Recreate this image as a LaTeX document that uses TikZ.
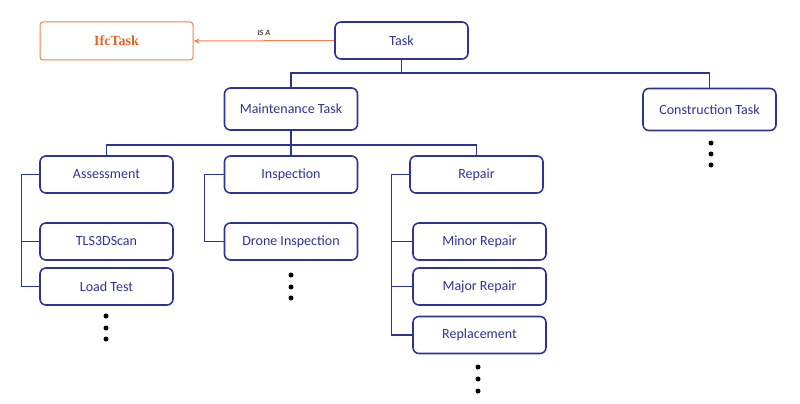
\documentclass[tikz,border=0pt]{standalone}
\usepackage{fontspec}
\setmainfont{Carlito}
\newfontfamily\serifcj{Liberation Serif}
\usetikzlibrary{arrows.meta}
\definecolor{tblue}{RGB}{46,52,148}
\definecolor{torange}{RGB}{240,130,70}
\definecolor{torangetext}{RGB}{226,100,40}
\tikzset{
  bx/.style={draw=tblue, line width=1.6pt, rounded corners=6pt, fill=white,
    minimum width=133pt, minimum height=37pt, inner sep=0pt,
    text=tblue, font=\fontsize{14}{16}\selectfont},
  ifcbox/.style={draw=torange, line width=1pt, rounded corners=3pt,
    minimum width=153pt, minimum height=38pt, inner sep=0pt,
    text=torangetext, font=\serifcj\bfseries\fontsize{14}{16}\selectfont},
  conn/.style={draw=tblue, line width=1.4pt},
  dotc/.style={fill=black, circle, inner sep=0pt, minimum size=5pt}
}
\begin{document}
\begin{tikzpicture}[x=1pt,y=-1pt]
\useasboundingbox (0,0) rectangle (800,404);
% nodes
\node[ifcbox] (ifc) at (116.5,41) {IfcTask};
\node[bx] (task) at (401.5,40.5) {Task};
\node[bx, minimum height=42pt] (maint) at (291,109) {Maintenance Task};
\node[bx, minimum height=42pt] (cons) at (709.5,109.5) {Construction Task};
\node[bx] (assess) at (106.5,174.5) {Assessment};
\node[bx] (insp) at (291,174.5) {Inspection};
\node[bx] (rep) at (476.5,174.5) {Repair};
\node[bx] (tls) at (106.5,241.5) {TLS3DScan};
\node[bx] (load) at (106.5,286.5) {Load Test};
\node[bx] (drone) at (291,241.5) {Drone Inspection};
\node[bx] (minor) at (479.5,241.5) {Minor Repair};
\node[bx] (major) at (479.5,286.5) {Major Repair};
\node[bx] (repl) at (479.5,335) {Replacement};
% IS A arrow
\draw[draw=torange, line width=1pt, -{Stealth[length=6pt,width=5pt]}] (task.west) -- node[above=1pt, text=black!75, font=\bfseries\itshape\fontsize{8}{9}\selectfont] {IS A} (ifc.east);
% tree connectors
\coordinate (j1) at (401.5,73);
\draw[conn] (task.south) -- (j1);
\draw[conn] (maint.north) |- (j1) -| (cons.north);
\coordinate (j2) at (291,145);
\draw[conn] (maint.south) -- (j2);
\draw[conn] (assess.north) |- (j2) -| (rep.north);
\draw[conn] (insp.north) -- (j2);
% brackets
\draw[conn] (assess.west) -- ++(-18,0) |- (load.west);
\draw[conn] (tls.west) -- ++(-18,0);
\draw[conn] (insp.west) -- ++(-19,0) |- (drone.west);
\draw[conn] (rep.west) -- ++(-18,0) |- (repl.west);
\draw[conn] (minor.west) -- ++(-21,0);
\draw[conn] (major.west) -- ++(-21,0);
% dots
\foreach \y [count=\i] in {316,328,339} \node[dotc] (da\i) at (106,\y) {};
\foreach \y [count=\i] in {275,287,298} \node[dotc] (dd\i) at (291,\y) {};
\foreach \y [count=\i] in {367,379,391} \node[dotc] (dr\i) at (478,\y) {};
\foreach \y [count=\i] in {143,154,165} \node[dotc] (dc\i) at (711,\y) {};
\end{tikzpicture}
\end{document}
